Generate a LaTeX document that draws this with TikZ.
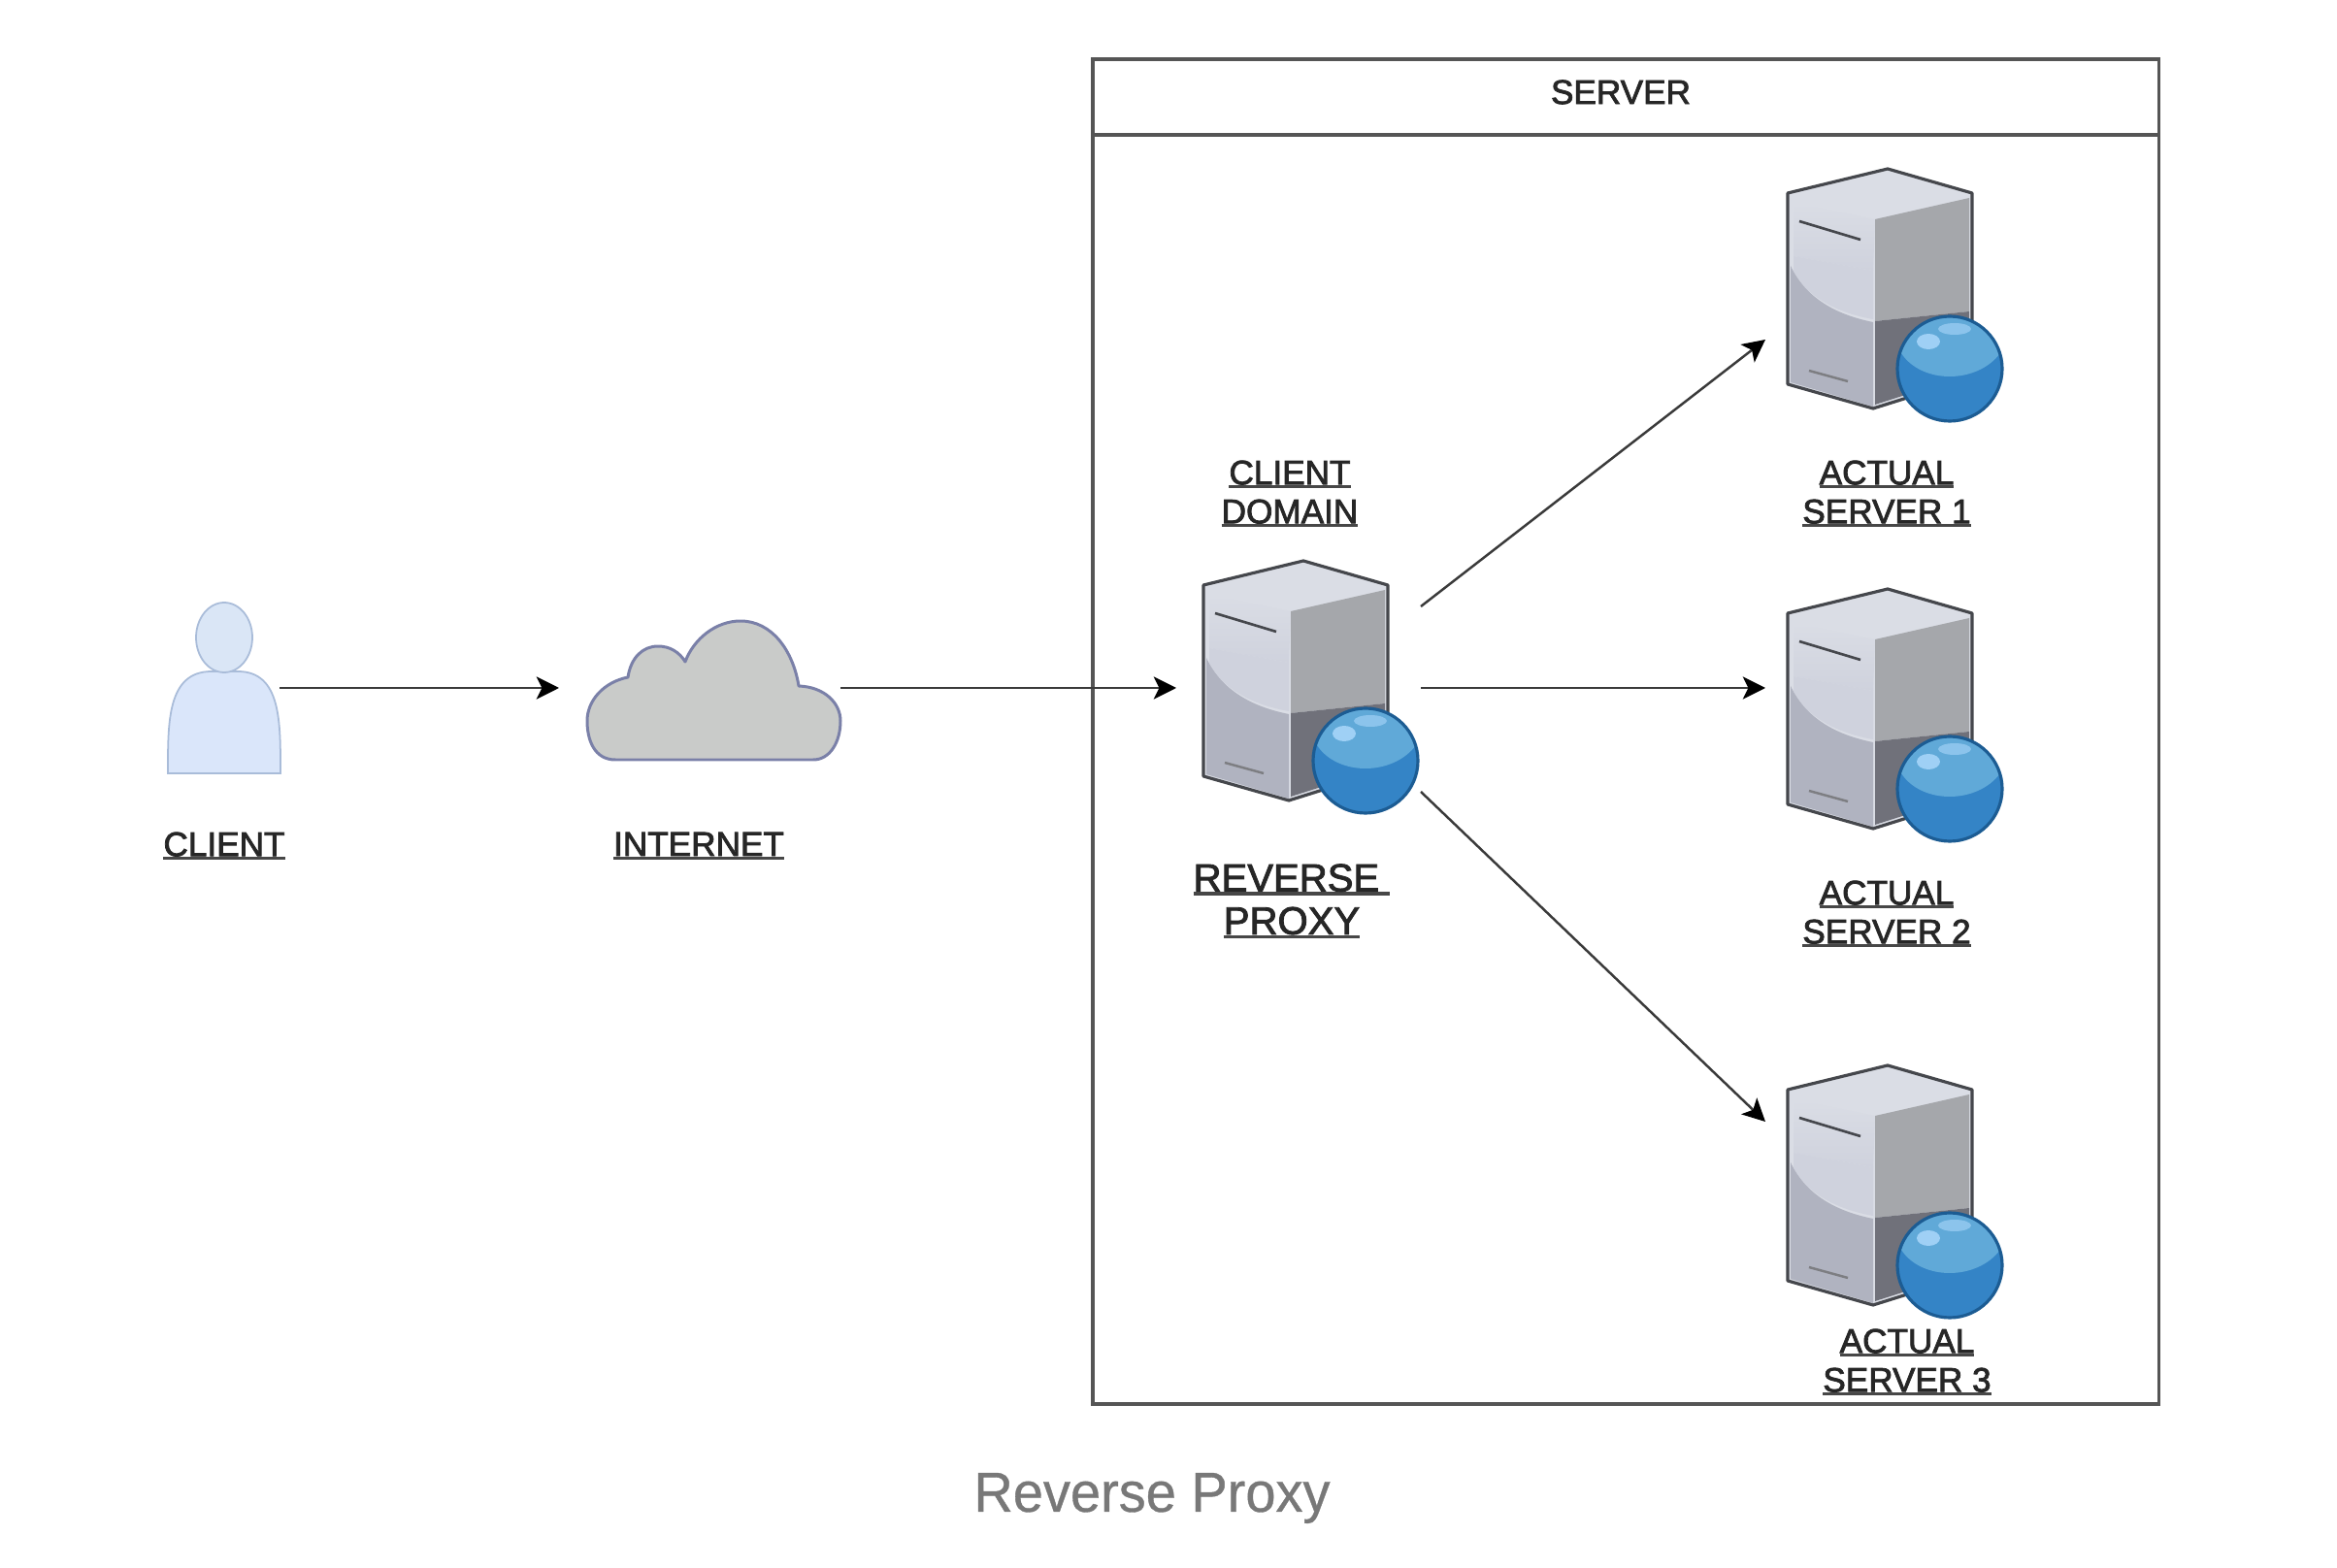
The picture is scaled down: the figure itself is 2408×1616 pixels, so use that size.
\documentclass[tikz,border=0pt]{standalone}
\usepackage{fontspec}
\setmainfont{Liberation Sans}
\newfontfamily\labfont[FakeBold=2.2]{Liberation Sans}
\newfontfamily\capfont[FakeStretch=0.965,FakeBold=0.6]{Liberation Sans}
\usetikzlibrary{arrows.meta}
\newcommand\ulab[1]{\setbox0=\hbox{#1}\rlap{\color{black!72}\rule[-0.115em]{\wd0}{0.095em}}\box0}
\definecolor{frameC}{HTML}{555555}
\definecolor{lineC}{HTML}{3A3A3A}
\definecolor{personF}{HTML}{DAE6FA}
\definecolor{personH}{HTML}{DAE6F6}
\definecolor{personD}{HTML}{A9BCD9}
\definecolor{cloudF}{HTML}{C9CBC9}
\definecolor{cloudD}{HTML}{7A80A8}
\definecolor{srvTop}{HTML}{DADDE5}
\definecolor{srvLU}{HTML}{CFD2DD}
\definecolor{srvLL}{HTML}{B0B3C0}
\definecolor{srvRU}{HTML}{A5A7AB}
\definecolor{srvRL}{HTML}{70717A}
\definecolor{srvLine}{HTML}{45474C}
\definecolor{ballMain}{HTML}{3484C6}
\definecolor{ballLight}{HTML}{60A9D8}
\definecolor{ballHi}{HTML}{9FD0F5}
\definecolor{ballEdge}{HTML}{1C5C93}
\tikzset{
  px/.style={x=0.01cm,y=-0.01cm},
  frameline/.style={draw=frameC,line width=1pt,outer sep=0pt},
  conn/.style={draw=lineC,line width=0.7pt,-{Stealth[length=6.6pt,width=6.6pt,inset=1.6pt,color=black]}},
  lab/.style={inner sep=0pt,align=center,font=\labfont\fontsize{10}{11.4}\selectfont,text=black!85},
  biglab/.style={inner sep=0pt,align=center,font=\labfont\fontsize{11.4}{12.6}\selectfont,text=black!85},
  captionlab/.style={inner sep=0pt,font=\capfont\fontsize{16.5}{18}\selectfont,text=black!53},
  srvicon/.pic={
    \fill[srvTop] (0,0) -- (87,25) -- (87,215) -- (-15,247) -- (-103,222) -- (-103,25) -- cycle;
    \shade[top color=srvTop,bottom color=srvLU] (-97,35) -- (-13,52) -- (-15,105) -- (-97,90) -- cycle;
    \fill[srvLU] (-97,90) -- (-15,105) -- (-15,155) .. controls (-55,148) and (-85,130) .. (-97,105) -- cycle;
    \fill[srvLL] (-100,100) .. controls (-85,132) and (-55,150) .. (-15,158) -- (-15,245) -- (-100,220) -- cycle;
    \fill[srvRU] (-13,52) -- (84,30) -- (84,147) -- (-13,157) -- cycle;
    \fill[srvRL] (-13,157) -- (84,147) -- (84,212) -- (-13,243) -- cycle;
    \draw[srvLine,line width=0.9pt,line join=round] (-103,25) -- (0,0) -- (87,25) -- (87,215) -- (-15,247) -- (-103,222) -- cycle;
    \draw[srvLine,line width=0.75pt] (-91,54) -- (-28,73);
    \draw[srvLine!70,line width=0.7pt] (-81,208) -- (-41,219);
    \fill[ballMain] (64,206) circle (54);
    \begin{scope}
      \clip (64,206) circle (54);
      \fill[ballLight] (10,150) rectangle (120,190);
      \fill[ballLight] (14,190) .. controls (35,222) and (92,222) .. (116,190) -- cycle;
    \end{scope}
    \fill[ballHi] (42,178) ellipse (12 and 8);
    \fill[ballHi!70!ballLight] (69,165) ellipse (17 and 6);
    \draw[ballEdge,line width=0.9pt] (64,206) circle (54);
  }
}
\begin{document}
\begin{tikzpicture}[px]
\useasboundingbox[fill=white] (0,0) rectangle (2408,1616);

\node[frameline,minimum width=10.98cm,minimum height=13.85cm,anchor=north west,inner sep=0pt] (frame) at (1126,61) {};
\node[frameline,minimum width=10.98cm,minimum height=0.78cm,anchor=north west,inner sep=0pt] (head) at (1126,61) {};
\node[lab] (servertitle) at (1670,95) {SERVER};

\path[fill=personF,draw=personD,line width=0.5pt] (173,797) .. controls (173,745) and (172,692) .. (218,692) -- (245,692) .. controls (290,692) and (289,745) .. (289,797) -- cycle;
\path[fill=personH,draw=personD,line width=0.5pt] (231,657) ellipse (29 and 36);
\node[lab] (clientlab) at (231,872) {\ulab{CLIENT}};

\path[fill=cloudF,draw=cloudD,line width=0.85pt,line join=round]
  (634,783) .. controls (612,783) and (605,762) .. (605,743)
  .. controls (605,722) and (622,703) .. (647,698)
  .. controls (650,678) and (662,666) .. (678,666)
  .. controls (690,666) and (700,672) .. (706,682)
  .. controls (715,658) and (738,640) .. (763,640)
  .. controls (795,640) and (817,670) .. (823,707)
  .. controls (850,708) and (866,725) .. (866,743)
  .. controls (866,765) and (855,783) .. (838,783) -- cycle;
\node[lab] (internetlab) at (720,872) {\ulab{INTERNET}};

\pic at (1343,578) {srvicon};
\pic at (1945,174) {srvicon};
\pic at (1945,607) {srvicon};
\pic at (1945,1098) {srvicon};

\node[lab] (domainlab) at (1329,509) {\ulab{CLIENT}\\\ulab{DOMAIN}};
\node[lab] (s1lab) at (1944,509) {\ulab{ACTUAL}\\\ulab{SERVER 1}};
\node[lab] (s2lab) at (1944,942) {\ulab{ACTUAL}\\\ulab{SERVER 2}};
\node[lab] (s3lab) at (1965,1404) {\ulab{ACTUAL}\\\ulab{SERVER 3}};
\node[biglab] (proxylab) at (1331,929) {\ulab{REVERSE\ }\\\ulab{PROXY}};
\node[captionlab] (caption) at (1187,1544) {Reverse Proxy};

\coordinate (clientout) at (288,709);
\coordinate (cloudin) at (576,709);
\coordinate (cloudout) at (866,709);
\coordinate (proxyin) at (1212,709);
\coordinate (proxyoutA) at (1464,625);
\coordinate (proxyoutB) at (1464,709);
\coordinate (proxyoutC) at (1464,816);
\coordinate (s1in) at (1819,350);
\coordinate (s2in) at (1819,709);
\coordinate (s3in) at (1819,1156);

\draw[conn] (clientout) -- (cloudin);
\draw[conn] (cloudout) -- (proxyin);
\draw[conn] (proxyoutA) -- (s1in);
\draw[conn] (proxyoutB) -- (s2in);
\draw[conn] (proxyoutC) -- (s3in);
\end{tikzpicture}
\end{document}
